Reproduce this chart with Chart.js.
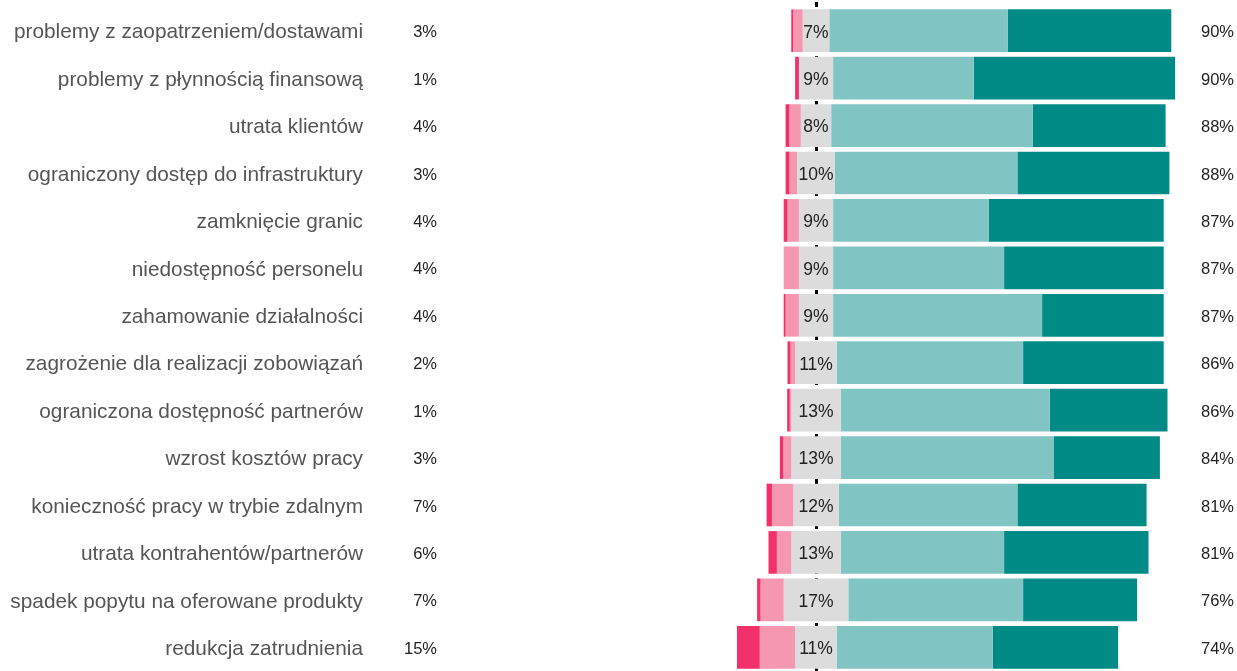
<!DOCTYPE html>
<html>
<head>
<meta charset="utf-8">
<script src="https://cdn.jsdelivr.net/npm/chart.js@4"></script>
<style>
  html, body { margin: 0; padding: 0; background: #fff; }
  #wrap { width: 1237px; height: 671px; position: relative; }
</style>
</head>
<body>
<div id="wrap"><canvas id="chart"></canvas></div>
<script>
const categories = [
  "problemy z zaopatrzeniem/dostawami",
  "problemy z płynnością finansową",
  "utrata klientów",
  "ograniczony dostęp do infrastruktury",
  "zamknięcie granic",
  "niedostępność personelu",
  "zahamowanie działalności",
  "zagrożenie dla realizacji zobowiązań",
  "ograniczona dostępność partnerów",
  "wzrost kosztów pracy",
  "konieczność pracy w trybie zdalnym",
  "utrata kontrahentów/partnerów",
  "spadek popytu na oferowane produkty",
  "redukcja zatrudnienia",
];

// shares in %
const strongNeg = [0.5, 1, 1, 1, 1, 0, 0.5, 0.8, 0.7, 0.9, 1.4, 2.2, 0.9, 6];
const weakNeg   = [2.5, 0, 3, 2, 3, 4, 3.5, 1.2, 0.4, 2.1, 5.6, 3.8, 6.1, 9.3];
const neutral   = [7, 9, 8, 10, 9, 9, 9, 11, 13, 13, 12, 13, 17, 11];
const weakPos   = [47, 37, 53, 48, 41, 45, 55, 49, 55, 56, 47, 43, 46, 41];
const strongPos = [43, 53, 35, 40, 46, 42, 32, 37, 31, 28, 34, 38, 30, 33];

const negLabels = ["3%", "1%", "4%", "3%", "4%", "4%", "4%", "2%", "1%", "3%", "7%", "6%", "7%", "15%"];
const posLabels = ["90%", "90%", "88%", "88%", "87%", "87%", "87%", "86%", "86%", "84%", "81%", "81%", "76%", "74%"];

const colors = {
  strongNeg: "#f2306a",
  weakNeg: "#f697b1",
  neutral: "#dcdcdc",
  weakPos: "#80c4c4",
  strongPos: "#008b87",
};

// floating bars, neutral centred on zero
const rStrongNeg = neutral.map((n, i) => [-n / 2 - weakNeg[i] - strongNeg[i], -n / 2 - weakNeg[i]]);
const rWeakNeg = neutral.map((n, i) => [-n / 2 - weakNeg[i], -n / 2]);
const rNeutral = neutral.map((n) => [-n / 2, n / 2]);
const rWeakPos = neutral.map((n, i) => [n / 2, n / 2 + weakPos[i]]);
const rStrongPos = neutral.map((n, i) => [n / 2 + weakPos[i], n / 2 + weakPos[i] + strongPos[i]]);

function bar(label, data, color) {
  return {
    label,
    data,
    backgroundColor: color,
    borderWidth: 0,
    grouped: false,
    barPercentage: 0.9,
    categoryPercentage: 1,
  };
}

const centreLine = {
  id: "centreLine",
  beforeDatasetsDraw(chart) {
    const { ctx, scales } = chart;
    const x = Math.round(scales.x.getPixelForValue(0)) + 0.5;
    ctx.save();
    ctx.strokeStyle = "#000";
    ctx.lineWidth = 3;
    ctx.setLineDash([5, 4]);
    ctx.beginPath();
    ctx.moveTo(x, 2);
    ctx.lineTo(x, chart.height);
    ctx.stroke();
    ctx.restore();
  },
};

const textLabels = {
  id: "textLabels",
  afterDatasetsDraw(chart) {
    const { ctx, scales } = chart;
    const x0 = scales.x.getPixelForValue(0);
    ctx.save();
    ctx.textBaseline = "middle";
    categories.forEach((cat, i) => {
      const y = scales.y.getPixelForValue(i) + 2;
      ctx.fillStyle = "#555";
      ctx.font = "20.8px 'Liberation Sans', Arial, sans-serif";
      ctx.textAlign = "right";
      ctx.fillText(cat, 363, y);

      ctx.fillStyle = "#222";
      ctx.font = "16.5px 'Liberation Sans', Arial, sans-serif";
      ctx.fillText(negLabels[i], 437, y);
      ctx.textAlign = "left";
      ctx.fillText(posLabels[i], 1201, y);
      ctx.font = "17.5px 'Liberation Sans', Arial, sans-serif";
      ctx.textAlign = "center";
      ctx.fillText(neutral[i] + "%", x0, y);
    });
    ctx.restore();
  },
};

new Chart(document.getElementById("chart"), {
  type: "bar",
  data: {
    labels: categories,
    datasets: [
      bar("zdecydowanie nie", rStrongNeg, colors.strongNeg),
      bar("raczej nie", rWeakNeg, colors.weakNeg),
      bar("trudno powiedzieć", rNeutral, colors.neutral),
      bar("raczej tak", rWeakPos, colors.weakPos),
      bar("zdecydowanie tak", rStrongPos, colors.strongPos),
    ],
  },
  options: {
    indexAxis: "y",
    responsive: true,
    maintainAspectRatio: false,
    animation: false,
    layout: { padding: { left: 664, right: 41, top: 7, bottom: 0 } },
    plugins: {
      legend: { display: false },
      tooltip: { enabled: false },
    },
    scales: {
      x: { display: false, min: -40, max: 100 },
      y: { display: false },
    },
  },
  plugins: [centreLine, textLabels],
});
</script>
</body>
</html>
